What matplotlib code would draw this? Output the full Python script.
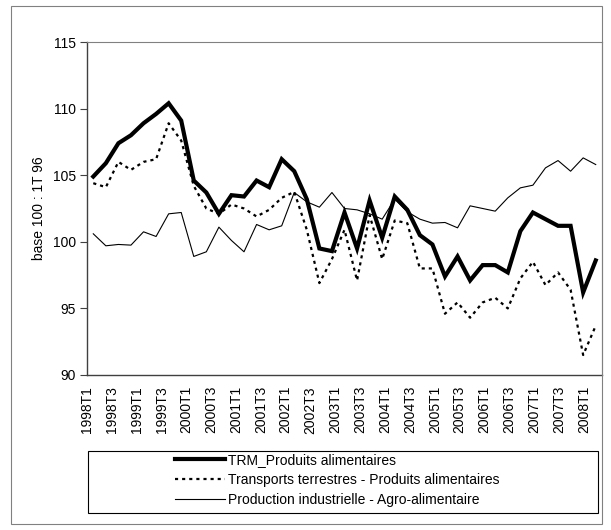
import matplotlib
matplotlib.use("Agg")
import matplotlib.pyplot as plt
import numpy as np
from matplotlib.patches import Rectangle

# ---- data ----
quarters = [f"{y}T{q}" for y in range(1998, 2009) for q in (1, 2, 3, 4)][:41]
label_quarters = quarters[::2]

trm = [104.9, 105.9, 107.4, 108.0, 108.9, 109.6, 110.4, 109.1, 104.6, 103.7,
       102.1, 103.5, 103.4, 104.6, 104.1, 106.2, 105.3, 103.2, 99.5, 99.3,
       102.2, 99.5, 103.1, 100.3, 103.4, 102.4, 100.5, 99.8, 97.4, 98.9,
       97.1, 98.25, 98.25, 97.7, 100.8, 102.2, 101.7, 101.2, 101.2, 96.2,
       98.6]
transport = [104.4, 104.1, 106.0, 105.4, 106.0, 106.2, 108.9, 107.6, 104.2, 102.5,
             102.1, 102.8, 102.5, 101.9, 102.4, 103.3, 103.75, 100.9, 96.9, 98.7,
             100.9, 97.1, 102.0, 98.7, 101.6, 101.4, 98.0, 98.0, 94.6, 95.45,
             94.3, 95.45, 95.8, 95.0, 97.25, 98.5, 96.75, 97.7, 96.4, 91.5,
             93.7]
agro = [100.6, 99.7, 99.8, 99.75, 100.75, 100.4, 102.1, 102.2, 98.9, 99.25,
        101.1, 100.1, 99.25, 101.3, 100.9, 101.2, 103.7, 103.0, 102.6, 103.7,
        102.5, 102.4, 102.1, 101.7, 103.2, 102.25, 101.7, 101.4, 101.45, 101.05,
        102.7, 102.5, 102.3, 103.3, 104.05, 104.25, 105.55, 106.1, 105.3, 106.3,
        105.8]
series_names = ["TRM_Produits alimentaires",
                "Transports terrestres - Produits alimentaires",
                "Production industrielle - Agro-alimentaire"]
y_ticks = [90, 95, 100, 105, 110, 115]
y_label = "base 100 : 1T 96"

plt.rcParams['font.family'] = ['Liberation Sans', 'DejaVu Sans']
FS = 10
W, H = 611, 530
fig = plt.figure(figsize=(W / 100, H / 100), dpi=100)

# outer chart frame
fig.patches.append(Rectangle((11 / W, 6 / H), (602 - 11) / W, (524 - 6) / H,
                             transform=fig.transFigure, fill=False,
                             edgecolor='#808080', lw=0.8))

ax = fig.add_axes([87 / W, (H - 375) / H, (602 - 87) / W, (375 - 42) / H])
x = np.arange(len(quarters))
l1, = ax.plot(x, trm, color='black', lw=3.0, solid_joinstyle='miter', zorder=2)
l2, = ax.plot(x, transport, color='black', lw=1.6, ls=(0, (1.4, 1.8)), zorder=3)
l3, = ax.plot(x, agro, color='black', lw=0.8, zorder=4)

ax.set_xlim(-0.5, len(quarters) - 0.5)
ax.set_ylim(y_ticks[0], y_ticks[-1])
ax.set_yticks(y_ticks)
ax.tick_params(axis='y', direction='out', length=5, width=0.8, pad=3,
               labelsize=FS, color='#404040')

step = 3.955
label_pos = -0.5 + step / 2 * np.arange(len(label_quarters))
ax.set_xticks(label_pos)
ax.set_xticklabels(label_quarters, rotation=90, fontsize=FS, va='top', ha='center')
ax.tick_params(axis='x', which='major', length=0, pad=8)
ax.set_xticks(label_pos[::2], minor=True)
ax.tick_params(axis='x', which='minor', direction='inout', length=6, width=0.8,
               color='#404040')

for s in ['left', 'bottom']:
    ax.spines[s].set_color('#404040')
    ax.spines[s].set_linewidth(1.0)
for s in ['top', 'right']:
    ax.spines[s].set_color('#808080')
    ax.spines[s].set_linewidth(0.8)

ax.set_ylabel(y_label, fontsize=FS)
ax.yaxis.set_label_coords((46 - 87) / (602 - 87), 0.5)

# legend box
fig.patches.append(Rectangle((88 / W, (H - 513) / H), (598 - 88) / W, (513 - 451) / H,
                             transform=fig.transFigure, fill=False,
                             edgecolor='black', lw=0.8))
fig.legend([l1, l2, l3], series_names, loc='upper left',
           bbox_to_anchor=(175 / W, (H - 453) / H), frameon=False,
           fontsize=FS, borderpad=0, borderaxespad=0, handlelength=3.6,
           handletextpad=0.25, labelspacing=0.42)

fig.savefig("out.png", dpi=100)
